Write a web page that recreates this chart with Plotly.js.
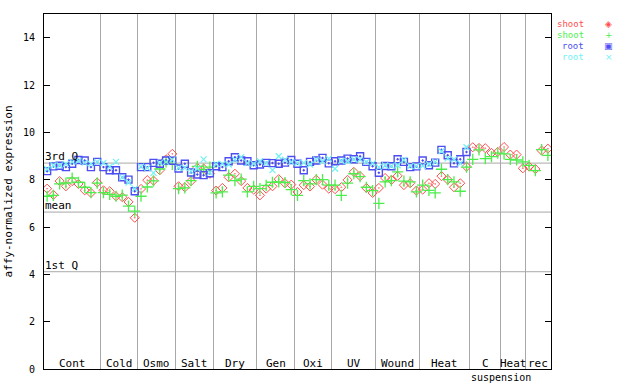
<!DOCTYPE html>
<html>
<head>
<meta charset="utf-8">
<script src="https://cdn.plot.ly/plotly-3.0.1.min.js"></script>
<style>html,body{margin:0;padding:0;background:#fff;}#chart{width:640px;height:384px;}</style>
</head>
<body>
<div id="chart"></div>
<script>
// ---- data ----
const groupLabels = ['Cont','Cold','Osmo','Salt','Dry','Gen','Oxi','UV','Wound','Heat','C','Heat','rec'];
const groupSizes  = [9,6,6,6,7,6,6,7,7,8,5,4,4];
const subLabel = 'suspension';

const shootRed = [
  7.62,7.36,7.94,7.72,7.94,7.82,7.55,7.44,7.88,
  7.55,7.51,7.30,7.26,7.06,6.39,
  7.61,7.98,7.96,8.40,8.86,9.09,
  7.72,7.68,7.94,8.50,8.47,8.25,
  7.54,7.65,8.10,8.25,7.94,7.65,7.58,
  7.34,7.62,7.72,8.02,7.85,7.79,
  7.48,7.77,7.71,8.00,7.79,7.62,
  7.60,7.68,7.99,8.33,8.15,7.65,7.44,
  7.65,8.07,7.99,8.16,7.77,7.85,7.54,
  7.58,7.85,7.82,8.15,8.00,7.68,7.85,8.55,
  9.37,9.34,9.33,9.13,9.17,
  9.38,9.06,9.06,8.48,
  8.55,8.45,9.23,9.31
];
const shootGreen = [
  7.30,7.34,7.82,7.86,8.07,7.89,7.68,7.45,7.85,
  7.45,7.38,7.30,7.35,6.88,6.67,
  7.30,7.69,7.95,8.45,8.75,8.65,
  7.62,7.65,7.96,8.56,8.43,8.53,
  7.44,7.48,8.19,7.96,8.02,7.48,7.72,
  7.62,7.76,7.89,7.91,7.88,7.58,
  7.34,7.96,7.82,8.00,8.00,7.77,
  7.77,7.34,7.85,8.25,8.13,7.68,7.54,
  7.00,7.91,7.96,8.33,7.94,7.91,7.48,
  7.77,7.55,7.44,8.44,8.00,7.91,7.51,8.53,
  8.86,9.26,8.89,8.97,9.12,
  9.09,8.86,8.83,8.75,
  8.60,8.38,9.27,9.03
];
const rootBlue = [
  8.36,8.56,8.59,8.53,8.67,8.83,8.81,8.53,8.75,
  8.53,8.40,8.40,8.10,8.00,7.51,
  8.53,8.53,8.71,8.67,8.81,8.80,
  8.47,8.67,8.30,8.22,8.19,8.27,
  8.57,8.53,8.78,8.95,8.81,8.78,8.61,
  8.64,8.71,8.70,8.67,8.72,8.83,
  8.67,8.40,8.75,8.81,8.92,8.69,
  8.78,8.81,8.89,8.86,8.99,8.75,8.57,
  8.29,8.58,8.57,8.86,8.75,8.53,8.56,
  8.81,8.61,8.72,9.26,9.03,8.69,8.86,9.17
];
const rootCyan = [
  8.45,8.60,8.60,8.67,8.75,8.80,8.72,8.67,8.75,
  8.71,8.55,8.75,8.10,7.88,7.62,
  8.55,8.50,8.29,8.71,8.75,8.85,
  8.50,8.50,8.35,8.47,8.86,8.30,
  8.67,8.67,8.64,8.85,8.95,8.70,8.67,
  8.78,8.70,8.40,8.99,8.85,8.75,
  8.70,8.71,8.64,8.85,8.78,8.89,
  8.46,8.80,8.78,8.86,8.85,8.75,8.69,
  8.53,8.60,8.57,8.61,8.83,8.57,8.57,
  8.58,8.65,8.75,9.20,8.90,8.86,8.69,9.37
];
const q3Value = 8.70;
const meanValue = 6.63;
const q1Value = 4.11;
const yTicks = [0,2,4,6,8,10,12,14];

// ---- derived ----
const nSamples = groupSizes.reduce((a,b)=>a+b,0);
const idx = arr => arr.map((_,i)=>i);
const bounds = [];
const centers = [];
let acc = 0;
groupSizes.forEach((s,i)=>{
  centers.push(acc + (s-1)/2);
  acc += s;
  if (i < groupSizes.length-1) bounds.push(acc - 0.5);
});

const RED='#ff4d4d', GREEN='#4cee4c', BLUE='#4d4df2', CYAN='#70f2f2';
const MONO = 'DejaVu Sans Mono, monospace';

const traces = [
  {x: idx(shootRed), y: shootRed, name:'shoot', mode:'markers', type:'scatter',
   marker:{symbol:'diamond-open-dot', size:7, color:RED, line:{width:1, color:RED}}},
  {x: idx(shootGreen), y: shootGreen, name:'shoot', mode:'markers', type:'scatter',
   marker:{symbol:'cross-thin-open', size:8, color:GREEN, line:{width:1.3, color:GREEN}}},
  {x: idx(rootBlue), y: rootBlue, name:'root', mode:'markers', type:'scatter',
   marker:{symbol:'square-open-dot', size:7, color:BLUE, line:{width:1.4, color:BLUE}}},
  {x: idx(rootCyan), y: rootCyan, name:'root', mode:'markers', type:'scatter',
   marker:{symbol:'x-thin-open', size:6, color:CYAN, line:{width:1.2, color:CYAN}}}
];

const annotations = [];
[['3rd Q',q3Value],['mean',meanValue],['1st Q',q1Value]].forEach(([t,v])=>{
  annotations.push({text:t, x:0, xref:'paper', y:v, yref:'y', xanchor:'left', yanchor:'bottom',
    showarrow:false, font:{family:MONO, size:11, color:'#000'}, borderpad:0, yshift:-1});
});
groupLabels.forEach((g,i)=>{
  annotations.push({text:g, x:centers[i], xref:'x', y:0.22, yref:'y', xanchor:'center', yanchor:'middle',
    showarrow:false, font:{family:MONO, size:11, color:'#000'}});
});
annotations.push({text:subLabel, x:bounds[10], xref:'x', y:-0.0414, yref:'paper', xanchor:'center', yanchor:'bottom',
  showarrow:false, font:{family:MONO, size:10, color:'#000'}, borderpad:0});

// legend (text + glyph) to the right of the plot
const legendItems = [['shoot',RED,'◈'],['shoot',GREEN,'+'],['root',BLUE,'▣'],['root',CYAN,'×']];
legendItems.forEach(([t,c,g],i)=>{
  const y = 0.972 - i*0.0315;
  annotations.push({text:t, x:1.067, xref:'paper', y:y, yref:'paper', xanchor:'right', yanchor:'middle',
    showarrow:false, font:{family:MONO, size:9, color:c}, borderpad:0});
  annotations.push({text:g, x:1.114, xref:'paper', y:y, yref:'paper', xanchor:'center', yanchor:'middle',
    showarrow:false, font:{family:'DejaVu Sans', size:9, color:c}, borderpad:0});
});

const shapes = [q3Value, meanValue, q1Value].map(v=>({
  type:'line', xref:'paper', x0:0, x1:1, yref:'y', y0:v, y1:v,
  line:{color:'#a8a8a8', width:1}, layer:'below'
}));

const layout = {
  width:640, height:384,
  margin:{l:44, r:89, t:14, b:15, pad:0},
  paper_bgcolor:'#fff', plot_bgcolor:'#fff',
  showlegend:false,
  font:{family:MONO, size:10, color:'#000'},
  xaxis:{range:[-0.5, nSamples-0.5], tickvals:bounds, showticklabels:false, ticks:'',
    showgrid:true, gridcolor:'#a8a8a8', gridwidth:1, zeroline:false,
    showline:true, linecolor:'#000', linewidth:1, mirror:true, fixedrange:true},
  yaxis:{range:[0,15], tickvals:yTicks, ticks:'inside', ticklen:6, tickcolor:'#000',
    showline:true, linecolor:'#000', linewidth:1, mirror:'ticks', showgrid:false, zeroline:false,
    tickfont:{family:MONO, size:10, color:'#000'}, ticklabelstandoff:6,
    title:{text:'affy-normalized expression', font:{family:MONO, size:11, color:'#000'}, standoff:8},
    automargin:false, fixedrange:true},
  shapes:shapes,
  annotations:annotations
};

Plotly.newPlot('chart', traces, layout, {displayModeBar:false, staticPlot:true});
</script>
</body>
</html>
